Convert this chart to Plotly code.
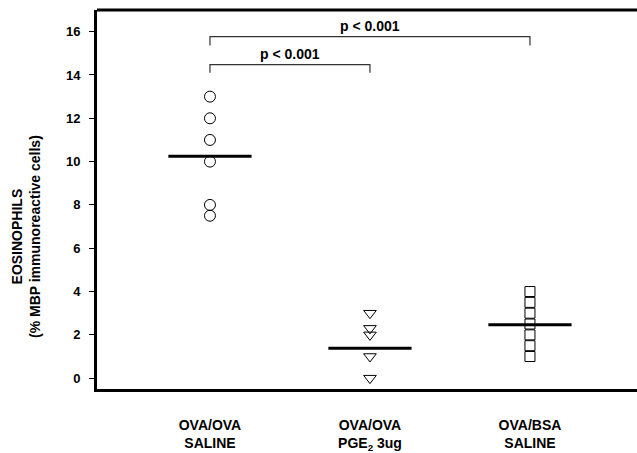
import plotly.graph_objects as go

# ---- data ----
categories = ["OVA/OVA<br>SALINE", "OVA/OVA<br>PGE<sub>2</sub> 3ug", "OVA/BSA<br>SALINE"]
cat_pos = [1, 2, 3]
saline_vals = [13.0, 12.0, 11.0, 10.0, 8.0, 7.5]
pge2_vals = [3.0, 2.3, 2.0, 1.0, 0.0]
bsa_vals = [4.0, 3.5, 3.0, 2.5, 2.0, 1.5, 1.0]
medians = [10.25, 1.38, 2.47]
y_ticks = [0, 2, 4, 6, 8, 10, 12, 14, 16]
bracket_pairs = [(1, 2), (1, 3)]
bracket_heights = [14.48, 15.77]
bracket_drop = [0.38, 0.41]
bracket_labels = ["p < 0.001", "p < 0.001"]

FONT = "Liberation Sans, Arial, sans-serif"

fig = go.Figure()

groups = [
    (saline_vals, "circle-open", 11),
    (pge2_vals, "triangle-down-open", 11),
    (bsa_vals, "square-open", 10),
]
for pos, (vals, sym, sz) in zip(cat_pos, groups):
    fig.add_trace(go.Scatter(
        x=[pos] * len(vals), y=vals, mode="markers",
        marker=dict(symbol=sym, size=sz, color="black", line=dict(width=1, color="black")),
        showlegend=False, hoverinfo="y"))

half = 0.26
for pos, m in zip(cat_pos, medians):
    fig.add_trace(go.Scatter(
        x=[pos - half, pos + half], y=[m, m], mode="lines",
        line=dict(color="black", width=3), showlegend=False, hoverinfo="skip"))

for (a, b), h, d, lab in zip(bracket_pairs, bracket_heights, bracket_drop, bracket_labels):
    fig.add_trace(go.Scatter(
        x=[a, a, b, b], y=[h - d, h, h, h - d], mode="lines",
        line=dict(color="#333333", width=1.2), showlegend=False, hoverinfo="skip"))
    fig.add_annotation(x=(a + b) / 2, y=h, text="<b>%s</b>" % lab, showarrow=False,
                       yanchor="bottom", yshift=1,
                       font=dict(family=FONT, size=14, color="black"))

fig.add_annotation(xref="paper", yref="paper", x=0, y=0.401, xshift=-71,
                   text="<b>EOSINOPHILS<br>(% MBP immunoreactive cells)</b>",
                   textangle=-90, showarrow=False, xanchor="center", yanchor="middle",
                   font=dict(family=FONT, size=14, color="black"))

# top frame line
fig.add_shape(type="line", xref="paper", yref="paper", x0=0, x1=1, y0=1, y1=1,
              line=dict(color="black", width=3))

fig.update_layout(
    width=637, height=453,
    margin=dict(l=97, r=0, t=10, b=64),
    plot_bgcolor="white", paper_bgcolor="white",
    font=dict(family=FONT, color="black"),
    xaxis=dict(range=[0.294, 3.669], tickvals=cat_pos,
               ticktext=["<b>%s</b>" % c for c in categories],
               showgrid=False, zeroline=False, showline=True, linecolor="black", linewidth=3,
               ticks="", ticklabelstandoff=21,
               tickfont=dict(family=FONT, size=14, color="black")),
    yaxis=dict(range=[-0.5, 17.0], tickvals=y_ticks,
               ticktext=["<b>%d</b>" % t for t in y_ticks],
               showgrid=False, zeroline=False, showline=True, linecolor="black", linewidth=3,
               ticks="outside", ticklen=5, tickwidth=1, tickcolor="black",
               ticklabelstandoff=6,
               tickfont=dict(family=FONT, size=13, color="black")),
)

fig.write_html("out.html", config={"displayModeBar": False},
               post_script="document.body.style.margin='0px';")
